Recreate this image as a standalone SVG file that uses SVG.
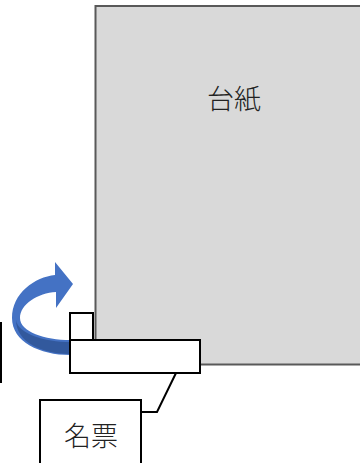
<svg xmlns="http://www.w3.org/2000/svg" width="360" height="463" viewBox="0 0 360 463">
<style>
.box{fill:#fff;stroke:#000;stroke-width:2}
.lbl{font-family:"Noto Sans CJK JP","Noto Sans CJK SC",sans-serif;font-size:27px;fill:#222;text-anchor:middle;font-weight:300}
.conn{fill:none;stroke:#000;stroke-width:2}
</style>
<rect width="360" height="463" fill="#fff"/>
<g id="leftbox"><line x1="1" y1="322" x2="1" y2="383" stroke="#000" stroke-width="2"/></g>
<g id="tab"><rect class="box" x="70" y="313" width="23" height="40"/></g>
<g id="daishi">
<rect x="95.5" y="6" width="270" height="358.5" fill="#d9d9d9" stroke="#595959" stroke-width="2"/>
<text class="lbl" x="234" y="109">台紙</text>
</g>
<g id="arrow">
<path d="M70,355 C40,355 12,342 12,318 C12,293 35,277 55,275 L55,262 L73,284 L56,308 L56,292 C38,293 20,304 20,318 C20,332 45,340 70,340 Z" fill="#4472c4"/>
<path d="M16,320 C18,334 45,342 70,342 L70,354 C42,354 16,342 16,320 Z" fill="#2f5597" opacity="0.85"/>
</g>
<g id="meifuda"><rect class="box" x="70" y="340" width="130" height="33"/></g>
<g id="connectors"><polyline class="conn" points="176,373 157,412 141,412"/></g>
<g id="label">
<rect class="box" x="40" y="400" width="101" height="70"/>
<text class="lbl" x="91" y="446">名票</text>
</g>
</svg>
